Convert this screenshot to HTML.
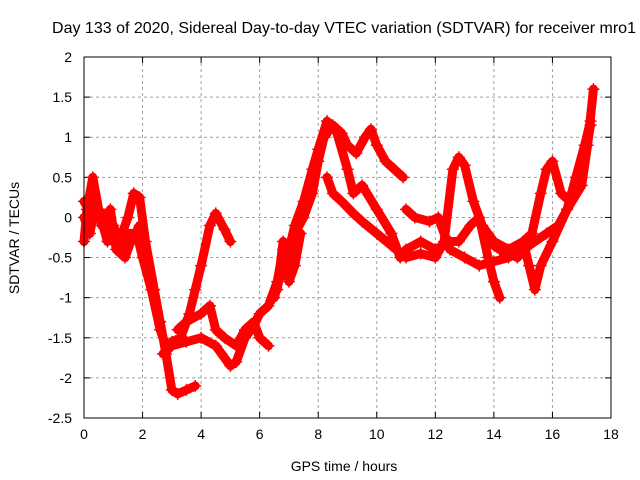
<!DOCTYPE html>
<html><head><meta charset="utf-8"><style>
body{margin:0;background:#fff}
svg{display:block;font-family:"Liberation Sans",sans-serif}
</style></head><body>
<svg id="chart" width="640" height="480">
<text x="344" y="33" font-size="16" text-anchor="middle">Day 133 of 2020, Sidereal Day-to-day VTEC variation (SDTVAR) for receiver mro1</text>
<text x="344" y="471" font-size="14" text-anchor="middle">GPS time / hours</text>
<text transform="translate(19,238) rotate(-90)" font-size="14" text-anchor="middle">SDTVAR / TECUs</text>
<g id="grid"></g><g id="ticks"></g><g id="series"></g>
<rect x="84" y="57" width="527" height="361" fill="none" stroke="#000" stroke-width="1"/>
</svg>
<script>
const xTicks=[0,2,4,6,8,10,12,14,16,18];
const yTicks=[2,1.5,1,0.5,0,-0.5,-1,-1.5,-2,-2.5];
const yTickLabels=["2","1.5","1","0.5","0","-0.5","-1","-1.5","-2","-2.5"];
const arc1=[[0,-0.3],[0.1,0.1],[0.3,0.5],[0.5,0.1],[0.8,-0.1],[1.0,-0.3],[1.3,-0.2],[1.5,0.0],[1.7,0.3],[1.9,0.25],[2.1,-0.3],[2.4,-0.9],[2.6,-1.3],[2.8,-1.7],[3.0,-2.15],[3.2,-2.2],[3.5,-2.15],[3.8,-2.1]];
const arc2=[[0,0.2],[0.3,0.0],[0.5,0.1],[0.8,-0.3],[1.0,-0.1],[1.3,-0.4],[1.5,-0.2],[1.8,-0.2],[2.0,-0.5],[2.3,-0.9],[2.6,-1.4],[2.8,-1.6],[3.0,-1.55],[3.3,-1.5],[3.6,-1.2],[3.8,-0.9],[4.0,-0.6],[4.3,-0.1],[4.5,0.05],[4.8,-0.15],[5.0,-0.3]];
const arc3=[[2.7,-1.7],[3.0,-1.6],[3.5,-1.55],[4.0,-1.5],[4.5,-1.6],[5.0,-1.85],[5.2,-1.8],[5.5,-1.5],[5.8,-1.35],[6.0,-1.2],[6.3,-1.1],[6.6,-0.8],[6.8,-0.4],[7.0,-0.5],[7.2,-0.2],[7.5,0.0],[7.8,0.3],[8.0,0.7],[8.2,1.0],[8.5,1.15],[8.8,1.05],[9.0,0.9],[9.3,0.8],[9.6,1.0],[9.8,1.1],[10.0,0.9],[10.3,0.7],[10.6,0.6],[10.9,0.5]];
const arc4=[[3.2,-1.4],[3.5,-1.3],[4.0,-1.2],[4.3,-1.1],[4.5,-1.4],[4.8,-1.5],[5.2,-1.6],[5.5,-1.4],[5.8,-1.3],[6.0,-1.5],[6.3,-1.6]];
const arc5=[[6.5,-1.0],[6.8,-0.6],[7.0,-0.4],[7.2,-0.1],[7.5,0.2],[7.8,0.6],[8.0,0.85],[8.3,1.2],[8.6,1.1],[9.0,0.6],[9.2,0.3],[9.5,0.4],[10.0,0.1],[10.5,-0.2],[10.8,-0.5],[11.0,-0.4],[11.5,-0.3],[12.0,-0.4],[12.5,-0.3],[12.8,-0.3],[13.2,-0.1],[13.5,0.0],[13.8,-0.5],[14.0,-0.8],[14.2,-1.0]];
const arc6=[[8.3,0.5],[8.5,0.3],[8.8,0.2],[9.2,0.05],[9.5,-0.05],[10.0,-0.2],[10.5,-0.35],[11.0,-0.5],[11.5,-0.45],[12.0,-0.5],[12.3,-0.3],[12.6,0.6],[12.8,0.75],[13.0,0.65],[13.3,0.2],[13.6,-0.1],[14.0,-0.3],[14.5,-0.4],[15.0,-0.3],[15.3,-0.2],[15.6,0.3],[15.8,0.6],[16.0,0.7],[16.3,0.3],[16.6,0.2],[17.0,0.5],[17.3,1.15]];
const arc7=[[11.0,0.1],[11.3,0.0],[11.8,-0.05],[12.1,0.0],[12.5,-0.4],[13.0,-0.5],[13.5,-0.6],[14.0,-0.55],[14.5,-0.5],[15.0,-0.3],[15.2,-0.6],[15.4,-0.9],[15.6,-0.6],[16.0,-0.3],[16.5,0.1],[17.0,0.4],[17.2,0.9],[17.4,1.6]];
const arc8=[[6.6,-0.9],[6.8,-0.3],[7.0,-0.8],[7.2,-0.6],[7.4,-0.2],[13.8,-0.3],[14.2,-0.4],[14.8,-0.5],[15.2,-0.35],[15.8,-0.2],[16.2,-0.1],[16.5,0.1],[16.8,0.5],[17.1,0.9],[17.3,1.2]];
const arc9=[[0,0.0],[0.2,-0.2],[0.4,0.2],[0.6,-0.1],[0.9,0.1],[1.1,-0.4],[1.4,-0.5],[1.6,-0.3],[1.9,-0.1],[2.0,-0.3]];
const arcs=[arc1,arc2,arc3,arc4,arc5,arc6,arc7,arc8.slice(0,5),arc8.slice(5),arc9];
const X0=84,X1=611,Y0=418,Y1=57;
const xs=v=>X0+(v-0)/(18-0)*(X1-X0);
const ys=v=>Y0-(v+2.5)/(4.5)*(Y0-Y1);
const NS="http://www.w3.org/2000/svg";
const mk=(t,a,p)=>{const e=document.createElementNS(NS,t);for(const k in a)e.setAttribute(k,a[k]);p.appendChild(e);return e;};
const grid=document.getElementById('grid'),ticks=document.getElementById('ticks'),ser=document.getElementById('series');
xTicks.forEach((t,i)=>{const x=xs(t);
 if(i>0&&i<xTicks.length-1){const g=mk('line',{x1:x,x2:x,y1:Y1,y2:Y0,stroke:'#a0a0a0','stroke-dasharray':'3,3'},grid);
 
 }
 mk('line',{x1:x,x2:x,y1:Y0,y2:Y0-6,stroke:'#000'},ticks);mk('line',{x1:x,x2:x,y1:Y1,y2:Y1+6,stroke:'#000'},ticks);
 const l=mk('text',{x:x,y:Y0+21,'font-size':14,'text-anchor':'middle'},ticks);l.textContent=t;
 
 });
yTicks.forEach((t,i)=>{const y=ys(t);
 if(i>0&&i<yTicks.length-1){const g=mk('line',{x1:X0,x2:X1,y1:y,y2:y,stroke:'#a0a0a0','stroke-dasharray':'3,3'},grid);
 
 }
 mk('line',{x1:X0,x2:X0+6,y1:y,y2:y,stroke:'#000'},ticks);mk('line',{x1:X1,x2:X1-6,y1:y,y2:y,stroke:'#000'},ticks);
 const l=mk('text',{x:X0-12,y:y+5,'font-size':14,'text-anchor':'end'},ticks);l.textContent=yTickLabels[i];
 
 });
arcs.forEach((a,i)=>{
 const p=mk('polyline',{points:a.map(d=>xs(d[0])+','+ys(d[1])).join(' '),fill:'none',stroke:'#ff0000','stroke-width':9,'stroke-linejoin':'round','stroke-linecap':'round'},ser);
 
 
 a.forEach(d=>{const x=xs(d[0]),y=ys(d[1]);
  const m=mk('path',{d:`M${x-6},${y}h12M${x},${y-6}v12`,stroke:'#ff0000','stroke-width':1.5},ser);
  
  });
});
</script>
</body></html>
